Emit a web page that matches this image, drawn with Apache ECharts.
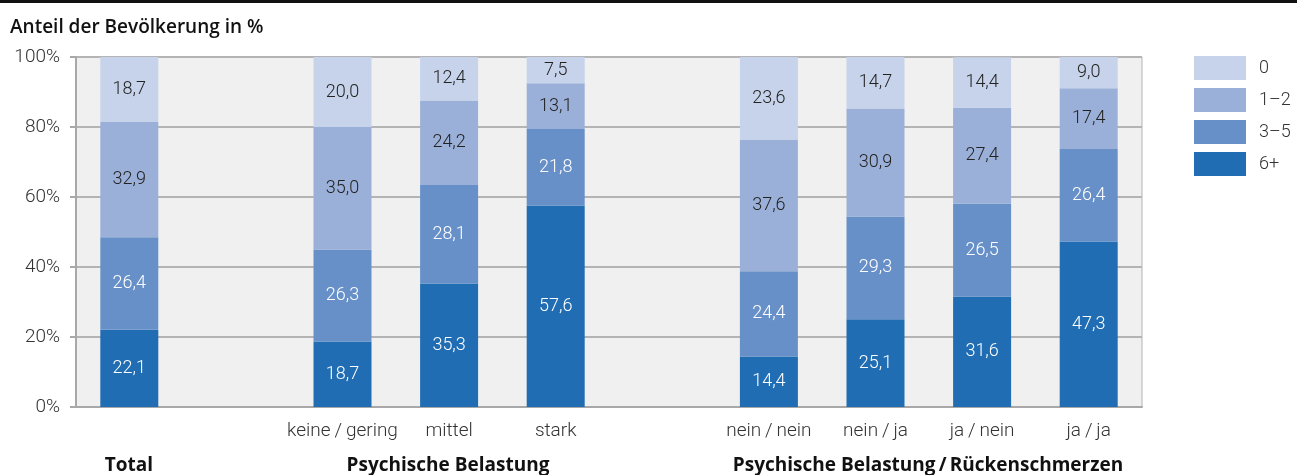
<!DOCTYPE html>
<html><head><meta charset="utf-8">
<script src="https://cdn.jsdelivr.net/npm/echarts@6/dist/echarts.min.js"></script>
<style>html,body{margin:0;padding:0;background:#fff}#c{width:1297px;height:475px}</style>
</head><body><div id="c"></div>
<script>
const categories = ['Total', '', 'keine/gering', 'mittel', 'stark', '', 'nein/nein', 'nein/ja', 'ja/nein', 'ja/ja'];
const catLabels = ['', '', 'keine\u2009/\u2009gering', 'mittel', 'stark', '', 'nein\u2009/\u2009nein', 'nein\u2009/\u2009ja', 'ja\u2009/\u2009nein', 'ja\u2009/\u2009ja'];
const s6plus = [22.1, null, 18.7, 35.3, 57.6, null, 14.4, 25.1, 31.6, 47.3];
const s3to5  = [26.4, null, 26.3, 28.1, 21.8, null, 24.4, 29.3, 26.5, 26.4];
const s1to2  = [32.9, null, 35.0, 24.2, 13.1, null, 37.6, 30.9, 27.4, 17.4];
const s0     = [18.7, null, 20.0, 12.4, 7.5, null, 23.6, 14.7, 14.4, 9.0];
const seriesNames = ['6+', '3\u20135', '1\u20132', '0'];
const yTicks = [0, 20, 40, 60, 80, 100];
const groupLabels = [
  {text: 'Total', x: 129},
  {text: 'Psychische Belastung', x: 448},
  {text: 'Psychische Belastung\u2009/\u2009Rückenschmerzen', x: 928}
];

const colors = ['#216db3', '#6790c9', '#9bb0d8', '#c6d3ea'];
const labelColors = ['#ffffff', '#ffffff', '#222222', '#222222'];
const FONT = 'Roboto';
const chart = echarts.init(document.getElementById('c'), null, {renderer: 'canvas'});
const dataSets = [s6plus, s3to5, s1to2, s0];
const series = dataSets.map((d, i) => ({
  name: seriesNames[i],
  type: 'bar',
  stack: 'a',
  data: d,
  barWidth: 58,
  itemStyle: {color: colors[i]},
  label: {
    show: true, position: 'inside', color: labelColors[i],
    fontFamily: FONT, fontWeight: 300, fontSize: 18,
    formatter: p => p.value == null ? '' : p.value.toFixed(1).replace('.', ',')
  },
  emphasis: {disabled: true},
  animation: false
}));

chart.setOption({
  animation: false,
  grid: {left: 76, right: 155, top: 57, bottom: 68, show: true, backgroundColor: '#f0f0f0', borderColor: '#b4b4b4', borderWidth: 1},
  legend: {
    data: ['0', '1\u20132', '3\u20135', '6+'],
    orient: 'vertical', left: 1194, top: 56, padding: 0,
    itemWidth: 52, itemHeight: 24, itemGap: 8,
    icon: 'rect',
    textStyle: {fontFamily: FONT, fontWeight: 300, fontSize: 18, color: '#333', padding: [3, 0, 0, 8]},
    selectedMode: false
  },
  xAxis: {
    type: 'category', data: categories,
    axisLine: {lineStyle: {color: '#a8a8a8', width: 2}},
    axisTick: {show: false},
    axisLabel: {
      interval: 0, margin: 15, fontFamily: FONT, fontWeight: 300, fontSize: 19, color: '#333',
      formatter: (v, i) => catLabels[i]
    }
  },
  yAxis: {
    type: 'value', min: 0, max: 100, interval: 20,
    axisLine: {show: true, lineStyle: {color: '#a8a8a8', width: 2}},
    axisTick: {show: true, length: 6, lineStyle: {color: '#a8a8a8', width: 2}},
    splitLine: {lineStyle: {color: '#b4b4b4', width: 2}},
    axisLabel: {
      margin: 16, fontFamily: FONT, fontWeight: 300, fontSize: 19, color: '#333',
      formatter: v => yTicks.includes(v) ? v + '%' : ''
    }
  },
  graphic: [
    {type: 'rect', shape: {x: 0, y: 0, width: 1297, height: 3}, style: {fill: '#111'}},
    {type: 'text', x: 10, y: 28, style: {text: 'Anteil der Bevölkerung in %', fontFamily: 'Open Sans', fontWeight: 600, fontSize: 19, fill: '#111', verticalAlign: 'middle'}}
  ].concat(groupLabels.map(g => ({
    type: 'text', x: g.x, y: 466,
    style: {text: g.text, fontFamily: 'Open Sans', fontWeight: 700, fontSize: 19, fill: '#111', align: 'center', verticalAlign: 'middle'}
  }))),
  series: series
});
</script>
</body></html>
